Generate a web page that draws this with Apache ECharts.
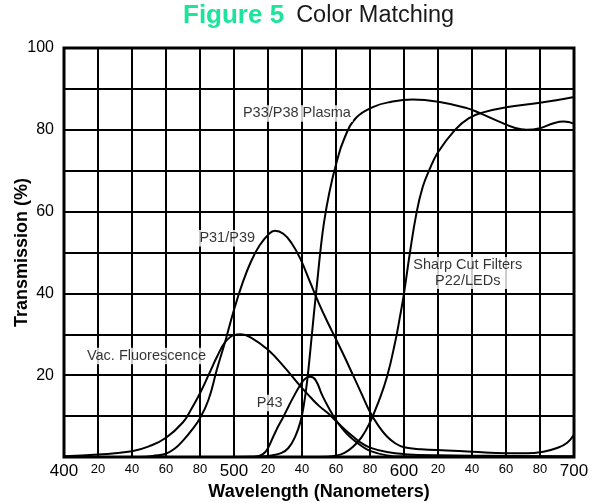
<!DOCTYPE html>
<html><head><meta charset="utf-8">
<script src="https://cdn.jsdelivr.net/npm/echarts/dist/echarts.min.js"></script>
<style>html,body{margin:0;padding:0;background:#fff}#c{width:595px;height:503px}</style>
</head><body><div id="c"></div>
<script>
// ---- data ----
const vacNm  = [400,420,440,450,460,470,475,480,485,490,495,500,504,510,520,530,538,545,550,555,560,565,570,575,580,590,600,620,650,700];
const vacPct = [0.2,0.6,1.4,2.6,4.7,8.5,11.8,15.6,20,24.5,28.2,29.8,30,29.2,26.2,21.8,17.8,14.6,12.5,10.8,8.8,6.8,5,3.4,2.3,1.2,0.7,0.4,0.3,0.2];

const p31Nm  = [400,445,455,460,465,470,475,480,485,490,495,500,505,510,515,520,524,529,534,539,545,550,555,560,565,570,575,580,585,590,595,600,610,625,640,660,672,682,690,696,700];
const p31Pct = [0,0,0.4,0.8,2,4,6.5,9.5,14,21.5,28.5,36,42.5,47.8,51.7,54.3,55.3,54.6,52.2,48.5,42.5,37.5,33,28.8,24.5,20,15.5,11,7.6,5,3.3,2.4,1.9,1.6,1.3,0.9,0.9,1.3,2.2,3.5,5.5];

const p43Nm  = [400,512,517,520,523,526,529,532,535,539,542,545,548,552,556,560,564,568,574,580,590,600,700];
const p43Pct = [0,0,0.7,2.2,4.9,7.5,9.8,12.3,14.7,17.6,19.2,19.6,18.8,15,11.8,9,6.8,5,3,1.5,0.4,0.1,0];

const plasmaNm  = [400,500,515,522,528,532,536,539,541,543,545,547,549,551,553,556,560,565,572,582,592,605,621,637,645,656,665,672,680,688,694,700];
const plasmaPct = [0,0,0.1,0.4,1,2.2,5,8.5,12.5,18.5,26.5,35,43,51,57.5,64.5,71.5,78,83,85.6,86.8,87.4,86.8,85.3,84,82,80.5,80,80.4,81.6,82,81.5];

const sharpNm  = [400,550,560,565,570,575,580,585,590,595,597.5,600,603.5,607.5,611,614.7,620,630,638,646,660,680,700];
const sharpPct = [0,0,0.3,1,2.5,4.8,8.5,13.5,19.6,28.5,34,40,50,60,66,70,74.5,80,82.8,84.2,85.5,86.6,88];

const labelText = ['P33/P38 Plasma','P31/P39','Vac. Fluorescence','P43','Sharp Cut Filters\nP22/LEDs'];
const labelNm   = [537, 496, 448.5, 521, 637.5];
const labelPct  = [84, 53.5, 24.7, 13.2, 45];

const FONT = "'Liberation Sans', Arial, Helvetica, sans-serif";
const zip = (a, b) => a.map((v, i) => [v, b[i]]);

function curve(name, nm, pct) {
  return {
    name, type: 'line', data: zip(nm, pct), smooth: 0.45,
    showSymbol: false, symbol: 'none', silent: true, z: 3,
    lineStyle: { color: '#000', width: 2 }
  };
}

const chart = echarts.init(document.getElementById('c'), null, { renderer: 'canvas' });
chart.setOption({
  animation: false,
  backgroundColor: '#fff',
  textStyle: { fontFamily: FONT },
  title: {
    text: '{a|Figure 5}{b|Color Matching}',
    left: 183, top: 3, padding: 0,
    textStyle: {
      rich: {
        a: { fontSize: 26, fontWeight: 'bold', color: '#1de39b', fontFamily: FONT },
        b: { fontSize: 23.5, fontWeight: 'normal', color: '#1a1a1a', fontFamily: FONT, padding: [0, 0, 0, 12] }
      }
    }
  },
  grid: { left: 64, right: 21, top: 48, bottom: 46, show: true, borderColor: '#000', borderWidth: 3,
          backgroundColor: 'transparent', containLabel: false, outerBoundsMode: 'none' },
  xAxis: {
    type: 'value', min: 400, max: 700, interval: 20,
    name: 'Wavelength (Nanometers)', nameLocation: 'middle', nameGap: 26, nameMoveOverlap: false,
    nameTextStyle: { fontSize: 18, fontWeight: 'bold', color: '#000', fontFamily: FONT },
    axisLine: { show: false }, axisTick: { show: false },
    splitLine: { show: true, lineStyle: { color: '#000', width: 2 } },
    axisLabel: {
      margin: 6, color: '#000', hideOverlap: false,
      formatter: v => (v % 100 === 0) ? '{big|' + v + '}' : '{small|' + (v % 100) + '}',
      rich: {
        big: { fontSize: 17, color: '#000', fontFamily: FONT },
        small: { fontSize: 13, color: '#000', fontFamily: FONT, padding: [0, 0, 3, 0] }
      }
    }
  },
  yAxis: {
    type: 'value', min: 0, max: 100, interval: 10,
    name: 'Transmission (%)', nameLocation: 'middle', nameGap: 33, nameRotate: 90, nameMoveOverlap: false,
    nameTextStyle: { fontSize: 18, fontWeight: 'bold', color: '#000', fontFamily: FONT },
    axisLine: { show: false }, axisTick: { show: false },
    splitLine: { show: true, lineStyle: { color: '#000', width: 2 } },
    axisLabel: {
      margin: 10, fontSize: 16, color: '#000', fontFamily: FONT,
      formatter: v => (v > 0 && v % 20 === 0) ? String(v) : ''
    }
  },
  series: [
    curve('Vac. Fluorescence', vacNm, vacPct),
    curve('P31/P39', p31Nm, p31Pct),
    curve('P43', p43Nm, p43Pct),
    curve('P33/P38 Plasma', plasmaNm, plasmaPct),
    curve('Sharp Cut Filters', sharpNm, sharpPct),
    {
      type: 'scatter', silent: true, z: 6, symbolSize: 1,
      itemStyle: { color: 'rgba(0,0,0,0)' },
      data: labelText.map((t, i) => ({ name: t, value: [labelNm[i], labelPct[i]] })),
      label: {
        show: true, position: 'inside', formatter: p => p.name,
        fontSize: 14.5, color: '#000', fontFamily: FONT, align: 'center',
        backgroundColor: '#fff', padding: [1, 2, 0, 2], lineHeight: 15.5
      }
    }
  ]
});
</script>
</body></html>
